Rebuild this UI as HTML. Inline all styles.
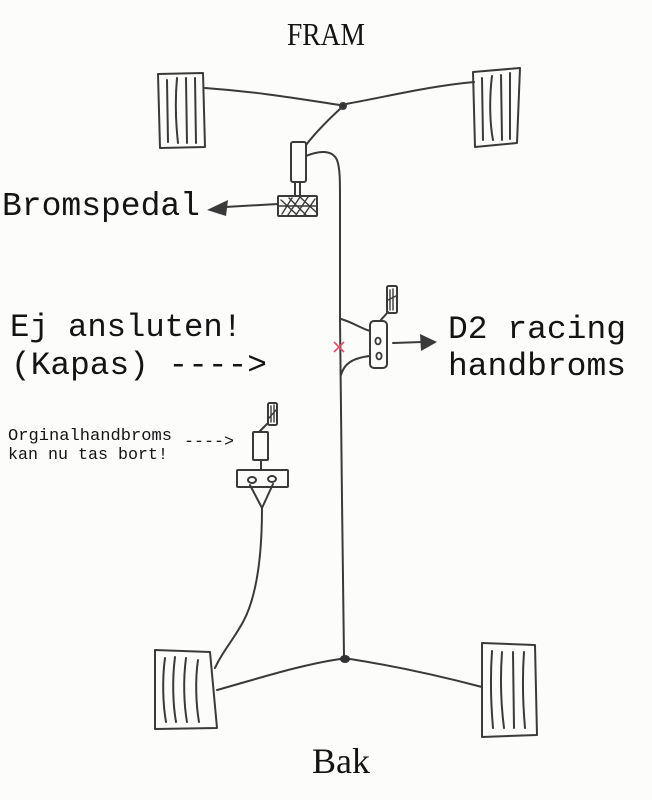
<!DOCTYPE html>
<html><head><meta charset="utf-8"><style>
html,body{margin:0;padding:0;background:#fcfcfb;}
svg{display:block;}
text{fill:#141414;}
.m{font-family:"Liberation Mono",monospace;}
.s{font-family:"Liberation Serif",serif;}
</style></head><body>
<svg width="652" height="800" viewBox="0 0 652 800" xmlns="http://www.w3.org/2000/svg">
<rect width="652" height="800" fill="#fcfcfb"/>
<g fill="none" stroke="#3a3a3a" stroke-width="2" stroke-linecap="round" stroke-linejoin="round">
<!-- front left wheel -->
<path d="M158,74 L203,73 L205,147 L160,148 Z"/>
<path d="M167,80 L168,142 M177,78 C175,100 176,125 178,143 M186,78 L187,143 M195,78 L196,143"/>
<!-- front right wheel -->
<path d="M473,72 L520,68 L517,143 L475,147 Z"/>
<path d="M482,78 L483,140 M492,76 C489,100 490,125 493,140 M501,75 L502,140 M510,73 L510,139"/>
<!-- front axle -->
<path d="M205,88 C260,92 300,99 340,105"/>
<path d="M346,104 C390,96 430,86 474,82"/>
<circle cx="343" cy="106" r="3" fill="#333"/>
<!-- diagonal to master cylinder -->
<path d="M341,108 C328,120 316,132 306,145"/>
<!-- master cylinder -->
<rect x="291" y="142" width="15" height="40" rx="2"/>
<path d="M295,182 L295,196 M300,182 L300,196"/>
<!-- pedal box crosshatched -->
<rect x="278" y="196" width="39" height="20" rx="1"/>
<path d="M282,214 L292,198 M288,215 L300,197 M296,215 L308,197 M304,215 L315,199 M281,200 L296,214 M289,198 L306,215 M300,197 L316,212 M279,206 L317,206" stroke-width="1.4"/>
<!-- arrow to Bromspedal -->
<path d="M278,204 L225,207"/>
<!-- main brake line -->
<path d="M306,156 C318,151 332,149 337,160 C340,168 340,180 340,200 L340,320 L342,500 L344,657"/>
<!-- D2 branches -->
<path d="M341,319 C352,322 360,328 370,331"/>
<path d="M341,375 C344,364 352,358 370,356"/>
<!-- D2 unit -->
<rect x="370" y="321" width="17" height="47" rx="4"/>
<ellipse cx="378" cy="341" rx="2.6" ry="3.4" stroke-width="1.8"/>
<ellipse cx="379" cy="356" rx="2.6" ry="3.4" stroke-width="1.8"/>
<path d="M380,321 L388,312"/>
<rect x="387" y="286" width="10" height="27" rx="1.5"/>
<path d="M390,290 L390,310 M393,289 L393,310 M388,300 L396,296" stroke-width="1.4"/>
<!-- D2 arrow -->
<path d="M393,343 L422,342"/>
<!-- original handbrake -->
<rect x="268" y="403" width="9" height="22" rx="1.5"/>
<path d="M271,406 L271,422 M274,405 L274,422 M269,418 L276,410" stroke-width="1.4"/>
<path d="M259,432 L268,423"/>
<rect x="253" y="432" width="15" height="28" rx="1"/>
<path d="M261,460 L261,470"/>
<rect x="237" y="470" width="51" height="17" rx="1"/>
<ellipse cx="252" cy="480" rx="4" ry="3"/>
<ellipse cx="272" cy="479" rx="4" ry="3"/>
<path d="M250,485 L262,508 L273,484"/>
<!-- handbrake cable -->
<path d="M262,508 C262,560 256,598 243,622 C232,642 222,652 215,668"/>
<!-- rear wheels -->
<path d="M155,650 L210,652 L217,728 L155,729 Z"/>
<path d="M165,658 C162,680 163,705 166,722 M175,657 C172,680 173,705 176,722 M186,658 C183,680 184,705 187,722 M198,660 C195,680 196,705 199,722"/>
<path d="M482,643 L535,645 L537,735 L482,737 Z"/>
<path d="M492,651 C490,680 491,705 493,728 M502,652 C500,680 501,705 504,728 M513,652 L514,728 M524,652 C522,680 523,705 525,728"/>
<!-- rear axle -->
<path d="M217,690 C260,678 300,665 340,659"/>
<path d="M350,659 C395,666 440,676 482,687"/>
</g>
<ellipse cx="345" cy="659" rx="5" ry="4" fill="#333"/>
<!-- arrowheads -->
<path d="M207,210 L228,200 L226,216 Z" fill="#3a3a3a"/>
<path d="M437,342 L420,334 L421,351 Z" fill="#3a3a3a"/>
<!-- red X -->
<path d="M334,342 L344,352 M344,342 L334,352" stroke="#e0506a" stroke-width="1.6" fill="none"/>
<!-- text -->
<text class="s" x="287" y="45" font-size="32" textLength="78" lengthAdjust="spacingAndGlyphs">FRAM</text>
<text class="m" x="2" y="215" font-size="33" textLength="198" lengthAdjust="spacingAndGlyphs">Bromspedal</text>
<text class="m" x="10" y="336" font-size="32" textLength="232" lengthAdjust="spacingAndGlyphs">Ej ansluten!</text>
<text class="m" x="11" y="374" font-size="32" textLength="256" lengthAdjust="spacingAndGlyphs">(Kapas) ----&gt;</text>
<text class="m" x="448" y="338" font-size="32" textLength="178" lengthAdjust="spacingAndGlyphs">D2 racing</text>
<text class="m" x="448" y="375" font-size="32" textLength="178" lengthAdjust="spacingAndGlyphs">handbroms</text>
<text class="m" x="8" y="440" font-size="17" textLength="164" lengthAdjust="spacingAndGlyphs">Orginalhandbroms</text>
<text class="m" x="8" y="459" font-size="17" textLength="160" lengthAdjust="spacingAndGlyphs">kan nu tas bort!</text>
<text class="m" x="184" y="446" font-size="17" textLength="50" lengthAdjust="spacingAndGlyphs">----&gt;</text>
<text class="s" x="312" y="773" font-size="36" textLength="58" lengthAdjust="spacingAndGlyphs">Bak</text>
</svg>
</body></html>
